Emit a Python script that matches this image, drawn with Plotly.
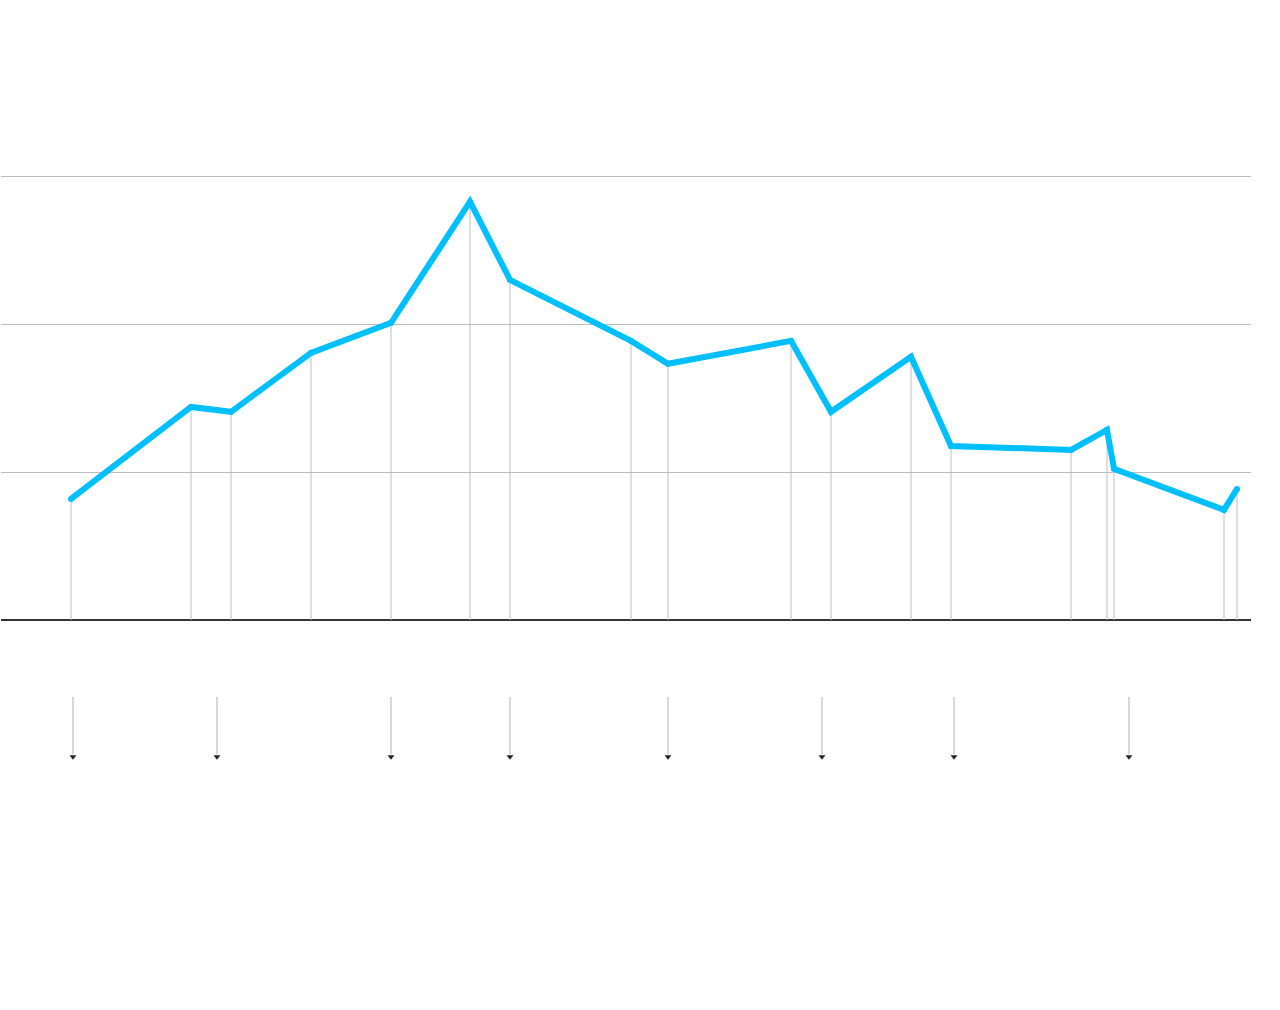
import plotly.graph_objects as go

# Data (x in chart units, y in gridline units)
x_vals = [70, 190, 230, 310, 390, 469, 509, 630, 667, 790, 830, 910, 950, 1070, 1106, 1113, 1223, 1236]
y_vals = [0.819, 1.442, 1.409, 1.808, 2.011, 2.831, 2.302, 1.889, 1.734, 1.889, 1.409, 1.781,
          1.178, 1.151, 1.287, 1.023, 0.745, 0.887]
event_x = [72, 216, 390, 509, 667, 821, 953, 1128]
arrow_top = -0.521
arrow_tip = -0.94

fig = go.Figure()

# drop lines from each point to the baseline
dx, dy = [], []
for xv, yv in zip(x_vals, y_vals):
    dx += [xv, xv, None]
    dy += [0, yv, None]
fig.add_trace(go.Scatter(x=dx, y=dy, mode="lines",
                         line=dict(color="#bdbdbd", width=1), hoverinfo="skip", showlegend=False))

# main line
fig.add_trace(go.Scatter(x=x_vals, y=y_vals, mode="lines+markers",
                         line=dict(color="#00BFFF", width=6),
                         marker=dict(color="#00BFFF", size=6, line=dict(width=0)),
                         showlegend=False))

# event arrows below the axis
ax_, ay_ = [], []
for ex in event_x:
    ax_ += [ex, ex, None]
    ay_ += [arrow_top, arrow_tip + 0.03, None]
fig.add_trace(go.Scatter(x=ax_, y=ay_, mode="lines",
                         line=dict(color="#c4c4c4", width=1.3), hoverinfo="skip", showlegend=False))
fig.add_trace(go.Scatter(x=event_x, y=[arrow_tip + 0.015] * len(event_x), mode="markers",
                         marker=dict(symbol="triangle-down", size=6, color="#222222"),
                         hoverinfo="skip", showlegend=False, cliponaxis=False))

fig.update_layout(
    width=1280, height=1010,
    margin=dict(l=1, r=29, t=29, b=1),
    paper_bgcolor="white", plot_bgcolor="white",
    xaxis=dict(range=[0, 1250], showgrid=False, zeroline=False, showticklabels=False,
               ticks="", showline=False, fixedrange=True),
    yaxis=dict(range=[-2.6328, 4], tickvals=[1, 2, 3], showgrid=True, gridcolor="#bdbdbd",
               gridwidth=1, zeroline=True, zerolinecolor="#333333", zerolinewidth=1.5,
               showticklabels=False, ticks="", showline=False, fixedrange=True),
)

fig.write_html("out.html", config={"displayModeBar": False},
               post_script="document.body.style.margin='0';")
